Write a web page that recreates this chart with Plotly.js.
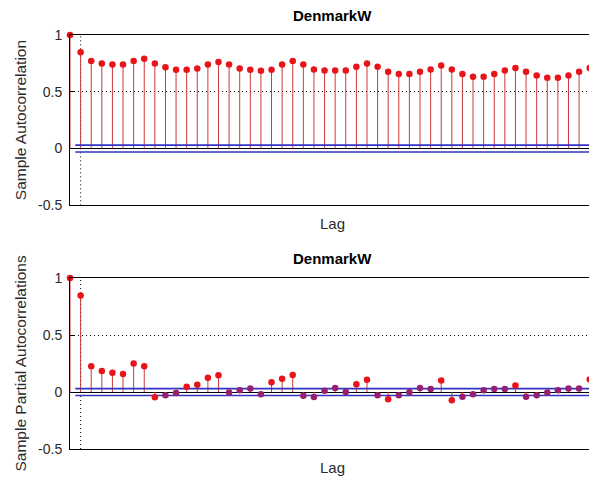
<!DOCTYPE html>
<html>
<head>
<meta charset="utf-8">
<script src="https://cdn.plot.ly/plotly-3.0.1.min.js"></script>
<style>
html, body { margin:0; padding:0; overflow:hidden; background:#fff; width:589px; height:479px; }
#chart { width:595px; height:479px; }
</style>
</head>
<body>
<div id="chart"></div>
<script>
// ---- data ----
const lags = [0,1,2,3,4,5,6,7,8,9,10,11,12,13,14,15,16,17,18,19,20,21,22,23,24,25,26,27,28,29,30,31,32,33,34,35,36,37,38,39,40,41,42,43,44,45,46,47,48,49];
const acfValues = [1, 0.847, 0.77, 0.75, 0.741, 0.741, 0.77, 0.79, 0.75, 0.717, 0.694, 0.694, 0.706, 0.741, 0.762, 0.741, 0.706, 0.694, 0.685, 0.694, 0.741, 0.772, 0.741, 0.697, 0.688, 0.688, 0.688, 0.72, 0.75, 0.72, 0.676, 0.656, 0.656, 0.676, 0.697, 0.732, 0.697, 0.656, 0.632, 0.632, 0.656, 0.688, 0.709, 0.676, 0.644, 0.623, 0.623, 0.644, 0.676, 0.709];
const pacfValues = [1, 0.846, 0.226, 0.185, 0.17, 0.158, 0.249, 0.226, -0.046, -0.029, -0.008, 0.047, 0.064, 0.126, 0.147, -0.005, 0.015, 0.03, -0.02, 0.085, 0.117, 0.149, -0.032, -0.044, 0.012, 0.035, 0.0, 0.067, 0.108, -0.029, -0.064, -0.029, -0.003, 0.035, 0.026, 0.1, -0.073, -0.041, -0.02, 0.015, 0.026, 0.026, 0.056, -0.041, -0.029, -0.005, 0.015, 0.03, 0.03, 0.111];
const acfBounds = [0.03, -0.03];
const pacfBounds = [0.03, -0.03];
const boundStartLag = 0.5;
const boundEndLag = 50;
const panelTitle = "DenmarkW";
const xLabel = "Lag";
const acfYLabel = "Sample Autocorrelation";
const pacfYLabel = "Sample Partial Autocorrelations";
const yTickVals = [-0.5, 0, 0.5, 1];
const yTickText = ["-0.5", "0", "0.5", "1"];

// ---- styles ----
const FONT = "Liberation Sans, Arial, Helvetica, sans-serif";
const RED = "#e8141a";
const PURPLE = "#962070";
const STEM = "#cc3838";
const BLUE = "#3434c4";
const DOTS = "1px,3px";

function stemTrace(x, y, xa, ya) {
  const xs = [], ys = [];
  x.forEach((k, i) => { xs.push(k, k, null); ys.push(0, y[i], null); });
  return {x: xs, y: ys, xaxis: xa, yaxis: ya, mode: "lines", type: "scatter",
          line: {color: STEM, width: 1}, hoverinfo: "skip", showlegend: false};
}
function boundTraces(b, xa, ya) {
  return b.map(v => ({x: [boundStartLag, boundEndLag], y: [v, v], xaxis: xa, yaxis: ya,
    mode: "lines", type: "scatter", line: {color: BLUE, width: 1.6}, hoverinfo: "skip", showlegend: false}));
}
function markerTrace(x, y, xa, ya, colorFn) {
  return {x: x, y: y, xaxis: xa, yaxis: ya, mode: "markers", type: "scatter", cliponaxis: false,
    marker: {color: y.map(colorFn), size: 6.5, line: {width: 0}}, showlegend: false};
}

const data = [
  stemTrace(lags, acfValues, "x", "y"),
  ...boundTraces(acfBounds, "x", "y"),
  markerTrace(lags, acfValues, "x", "y", () => RED),
  stemTrace(lags, pacfValues, "x2", "y2"),
  ...boundTraces(pacfBounds, "x2", "y2"),
  markerTrace(lags, pacfValues, "x2", "y2", v => Math.abs(v) < 0.045 ? PURPLE : RED)
];

function xAxis(anchor) {
  return {anchor: anchor, domain: [0, 1], range: [0, 49.5], showticklabels: false, ticks: "",
    showgrid: false, zeroline: false, showline: true, mirror: true, linecolor: "#000", linewidth: 1, fixedrange: true};
}
function yAxis(anchor, domain) {
  return {anchor: anchor, domain: domain, range: [-0.5, 1], tickvals: yTickVals, ticktext: yTickText,
    ticks: "inside", ticklen: 4, tickcolor: "#000", ticklabelstandoff: 4,
    tickfont: {family: FONT, size: 14, color: "#2a2a2a"},
    showgrid: true, griddash: DOTS, gridcolor: "#000", gridwidth: 1,
    zeroline: true, zerolinecolor: "#000", zerolinewidth: 1,
    showline: true, mirror: true, linecolor: "#000", linewidth: 1, fixedrange: true};
}

const annotations = [];
[["x", "y", acfYLabel], ["x2", "y2", pacfYLabel]].forEach(([xa, ya, ylab]) => {
  annotations.push({xref: xa + " domain", yref: ya + " domain", x: 0.5, y: 1, xanchor: "center", yanchor: "bottom",
    yshift: 9, text: "<b>" + panelTitle + "</b>", showarrow: false, font: {family: FONT, size: 15, color: "#000"}});
  annotations.push({xref: xa + " domain", yref: ya + " domain", x: 0.5, y: 0, xanchor: "center", yanchor: "top",
    yshift: -8, text: xLabel, showarrow: false, font: {family: FONT, size: 15, color: "#2a2a2a"}});
  annotations.push({xref: "paper", yref: ya + " domain", x: -0.0952, y: 0.5, xanchor: "center", yanchor: "middle",
    textangle: -90, text: ylab, showarrow: false, font: {family: FONT, size: 15.5, color: "#2a2a2a"}});
});

const shapes = [["x", "y"], ["x2", "y2"]].map(([xa, ya]) => ({
  type: "line", xref: xa, yref: ya + " domain", x0: 1, x1: 1, y0: 0, y1: 1, layer: "below",
  line: {color: "#000", width: 1, dash: DOTS}
}));

const layout = {
  width: 595, height: 479,
  margin: {l: 70, r: 0, t: 35, b: 30, pad: 0},
  paper_bgcolor: "#fff", plot_bgcolor: "#fff",
  showlegend: false,
  xaxis: xAxis("y"), yaxis: yAxis("x", [0.5886, 1]),
  xaxis2: xAxis("y2"), yaxis2: yAxis("x2", [0, 0.413]),
  annotations: annotations, shapes: shapes,
  font: {family: FONT}
};

Plotly.newPlot("chart", data, layout, {displayModeBar: false, staticPlot: true});
</script>
</body>
</html>
